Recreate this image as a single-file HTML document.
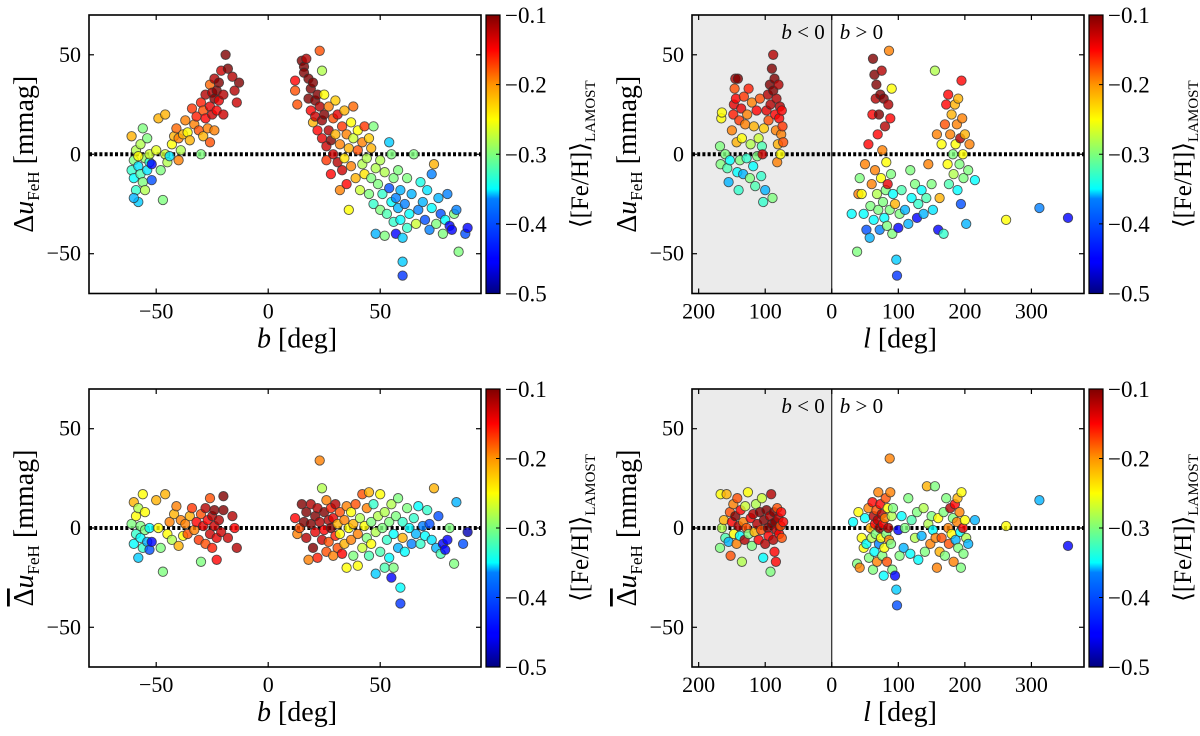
<!DOCTYPE html>
<html><head><meta charset="utf-8"><style>
html,body{margin:0;padding:0;background:#fff;}
svg{display:block;font-family:"Liberation Serif","DejaVu Serif",serif;}
</style></head><body>
<svg id="fig" width="1200" height="736" viewBox="0 0 1200 736">
<defs>
<linearGradient id="jet" x1="0" y1="1" x2="0" y2="0">
<stop offset="0" stop-color="#00007f"/><stop offset="0.11" stop-color="#0000ff"/><stop offset="0.125" stop-color="#0000ff"/>
<stop offset="0.34" stop-color="#0080ff"/><stop offset="0.375" stop-color="#00ffff" /><stop offset="0.5" stop-color="#7dff7a"/>
<stop offset="0.625" stop-color="#ffff00"/><stop offset="0.75" stop-color="#ff9400"/><stop offset="0.875" stop-color="#ff0000"/><stop offset="1" stop-color="#7f0000"/>
</linearGradient>
</defs>
</svg>
<script>
// ---------- data: top-left (b vs Δu) ----------
const tlB=[-61,-60,-60,-59,-59,-58,-58,-57,-57,-56,-56,-55,-55,-54,-54,-53,-52,-52,-61,-60,-58,-53,-50,-49,-48,-47,-46,-46,-45,-44,-43,-42,-41,-40,-40,-39,-38,-37,-36,-35,-34,-33,-32,-31,-30,-30,-29,-29,-28,-28,-27,-26,-26,-25,-25,-24,-24,-23,-23,-22,-22,-21,-20,-20,-19,-18,-16,-15,-14,-13,-26,-24,
12,12,13,15,16,16,17,18,18,19,19,20,20,21,21,22,22,23,23,24,24,24,25,25,26,26,27,27,28,28,29,29,30,30,31,31,32,32,33,33,34,34,35,35,36,36,37,37,38,38,39,40,40,41,42,42,43,43,44,45,45,46,46,47,47,48,48,49,50,50,51,52,52,53,54,54,55,55,56,56,57,57,58,58,59,59,60,60,60,61,62,62,63,64,65,66,67,68,69,70,71,72,73,73,74,75,76,77,78,79,80,81,82,83,84,85,88,89];
const tlDu=[-8,-12,-3,-18,2,-6,-24,-10,5,-14,13,-2,-18,-8,8,-4,-13,-5,9,-22,-1,0,2,18,-8,-23,20,0,-4,-1,5,9,13,-3,8,2,10,17,11,7,23,15,19,12,26,0,22,9,18,30,13,24,35,20,31,28,38,32,22,36,27,42,30,20,50,43,39,32,26,36,6,12,
37,32,25,47,44,41,48,38,28,33,22,36,16,27,19,30,12,52,24,42,8,17,20,30,4,-3,12,24,7,-10,18,0,27,10,-4,20,5,-18,14,-8,22,-2,10,-15,3,-28,16,-6,8,24,-12,12,2,-18,6,-5,14,-10,-2,8,-20,-12,3,14,-25,-7,-40,-15,-28,-3,-20,-9,-41,-30,-17,6,-24,0,-12,-34,-22,-40,-27,-8,-18,-33,-42,-54,-61,-25,-37,-12,-30,-20,0,-35,-28,-14,-24,-33,-18,-38,-27,-10,-5,-35,-22,-30,-40,-33,-20,-36,-38,-30,-28,-49,-40,-37];
const tlFeh=[-.33,-.35,-.3,-.33,-.28,-.36,-.37,-.32,-.28,-.3,-.3,-.29,-.28,-.36,-.3,-.34,-.42,-.45,-.22,-.38,-.25,-.27,-.26,-.22,-.3,-.3,-.22,-.27,-.28,-.36,-.25,-.22,-.19,-.2,-.2,-.28,-.22,-.2,-.25,-.22,-.17,-.2,-.16,-.18,-.16,-.3,-.18,-.22,-.15,-.12,-.2,-.14,-.19,-.13,-.12,-.1,-.12,-.1,-.15,-.1,-.14,-.13,-.12,-.13,-.1,-.1,-.12,-.12,-.13,-.1,-.18,-.2,
-.15,-.18,-.18,-.1,-.1,-.1,-.12,-.1,-.1,-.1,-.15,-.1,-.22,-.1,-.13,-.1,-.15,-.18,-.12,-.28,-.14,-.11,-.1,-.25,-.13,-.17,-.12,-.2,-.1,-.15,-.18,-.13,-.23,-.22,-.12,-.14,-.2,-.2,-.17,-.13,-.22,-.24,-.2,-.15,-.22,-.25,-.25,-.2,-.27,-.19,-.22,-.25,-.18,-.27,-.2,-.28,-.17,-.24,-.28,-.23,-.3,-.3,-.22,-.3,-.33,-.28,-.38,-.3,-.3,-.28,-.33,-.28,-.3,-.32,-.42,-.37,-.35,-.3,-.3,-.33,-.4,-.45,-.38,-.3,-.38,-.35,-.37,-.37,-.43,-.4,-.33,-.3,-.35,-.38,-.3,-.27,-.4,-.34,-.38,-.42,-.36,-.4,-.35,-.4,-.22,-.3,-.38,-.42,-.3,-.35,-.4,-.45,-.45,-.3,-.4,-.3,-.42,-.45];

// ---------- data: top-right (l vs Δu; negative = b<0 side) ----------
const trL=[-168,-167,-166,-165,-160,-157,-155,-153,-150,-148,-147,-146,-145,-144,-143,-142,-141,-140,-139,-138,-136,-135,-133,-132,-130,-128,-127,-125,-123,-122,-120,-118,-117,-115,-113,-112,-110,-108,-106,-105,-104,-103,-102,-100,-98,-96,-95,-93,-92,-90,-89,-88,-88,-86,-85,-84,-83,-82,-81,-80,-79,-78,-77,-76,-75,-74,-73,
30,38,40,42,45,48,50,52,55,57,58,60,61,62,63,64,65,66,67,68,69,70,71,72,73,74,75,76,77,78,79,80,81,82,83,84,85,86,87,88,89,90,91,92,95,97,98,100,102,105,110,115,118,120,125,128,130,135,138,142,145,150,152,155,158,160,162,165,168,170,172,174,175,176,178,180,182,183,185,186,188,189,190,192,193,194,195,196,197,198,200,202,205,207,215,262,312,355];
const trDu=[4,-5,18,21,0,-7,-14,-3,12,20,25,33,38,28,6,-9,38,-18,17,-3,23,8,-10,29,15,-2,20,33,-12,5,26,-6,14,-16,22,-1,8,28,-11,4,0,-24,13,-18,22,30,17,35,25,43,-22,50,32,38,20,12,28,-4,5,35,18,24,0,10,22,14,6,
-30,-49,-20,-12,-20,-30,-5,-38,5,-42,-26,-15,20,48,-33,40,-8,28,35,-20,10,-28,20,-38,30,-12,42,2,-24,28,-32,14,-18,-4,-36,-15,25,52,-28,18,-10,33,-40,-20,-25,-53,-61,-37,-30,-18,-28,-35,-8,-22,-15,-32,-25,-18,-30,-22,-5,-15,-28,42,10,-38,-22,5,-40,15,25,-5,30,-15,10,20,0,-10,25,5,15,-18,28,-5,8,-25,37,18,0,-12,10,-35,-8,5,-13,-33,-27,-32];
const trFeh=[-.3,-.3,-.25,-.25,-.3,-.32,-.38,-.35,-.2,-.16,-.14,-.18,-.12,-.15,-.22,-.35,-.1,-.33,-.17,-.3,-.14,-.25,-.38,-.17,-.2,-.33,-.2,-.16,-.3,-.28,-.2,-.35,-.22,-.32,-.15,-.3,-.27,-.18,-.33,-.32,-.13,-.33,-.23,-.38,-.14,-.12,-.18,-.1,-.12,-.1,-.3,-.12,-.1,-.1,-.15,-.2,-.12,-.2,-.22,-.12,-.15,-.12,-.25,-.2,-.15,-.17,-.18,
-.35,-.3,-.2,-.3,-.25,-.35,-.2,-.42,-.15,-.38,-.3,-.2,-.15,-.1,-.35,-.1,-.2,-.12,-.1,-.28,-.15,-.3,-.1,-.4,-.1,-.25,-.12,-.2,-.3,-.1,-.35,-.12,-.3,-.25,-.3,-.14,-.12,-.2,-.3,-.15,-.3,-.25,-.3,-.35,-.22,-.37,-.43,-.45,-.3,-.32,-.38,-.38,-.3,-.35,-.3,-.45,-.33,-.35,-.38,-.32,-.2,-.3,-.36,-.28,-.2,-.45,-.22,-.25,-.33,-.18,-.15,-.25,-.15,-.32,-.2,-.22,-.3,-.28,-.22,-.25,-.2,-.35,-.22,-.3,-.12,-.42,-.15,-.2,-.25,-.3,-.22,-.38,-.3,-.2,-.35,-.25,-.4,-.45];

// ---------- data: bottom-left (b vs mean Δu) ----------
const blB=[-61,-60,-60,-59,-59,-58,-58,-57,-57,-56,-56,-55,-55,-54,-53,-53,-52,-50,-49,-48,-47,-46,-45,-44,-43,-42,-41,-40,-39,-38,-37,-36,-35,-34,-33,-32,-31,-30,-30,-29,-28,-28,-27,-26,-26,-25,-25,-24,-24,-23,-23,-22,-21,-20,-20,-18,-16,-15,-14,
12,13,14,15,16,17,17,18,19,19,20,21,21,22,22,23,23,24,24,25,25,26,26,27,27,28,28,29,29,30,30,31,31,32,32,33,34,34,35,35,36,37,37,38,38,39,40,40,41,42,42,43,44,44,45,45,46,46,47,48,48,49,50,50,51,52,52,53,54,54,55,55,56,56,57,58,58,59,59,60,60,61,62,63,64,65,66,67,68,69,70,71,72,73,74,75,76,77,78,79,80,81,83,84,87,89];
const blDu=[2,-8,13,-3,6,-15,10,-5,1,17,-10,-1,8,-7,0,-11,-7,14,0,-10,-22,17,-3,3,-6,7,11,-9,4,-4,2,-3,6,10,-1,3,-6,7,-17,1,-8,10,4,-3,15,6,-10,1,9,-5,-16,4,-2,16,9,-5,6,0,-10,
5,-3,0,12,3,-5,8,-16,2,12,-10,6,-2,10,-15,34,3,20,-6,8,-1,-12,14,4,-7,0,10,-14,5,12,-4,2,-10,8,-3,-13,4,-8,-20,11,0,-6,8,-14,2,12,-19,-3,5,-10,17,1,-5,10,-14,18,3,-8,12,-23,-2,6,-12,17,0,-20,8,-6,-15,3,-25,12,-3,-20,6,-10,15,-30,-38,-5,3,-12,10,0,-8,5,-3,11,-8,1,-4,9,2,-6,20,-10,6,-13,-8,-11,-6,0,-18,13,-8,-2];
const blFeh=[-.3,-.35,-.22,-.33,-.25,-.37,-.28,-.35,-.3,-.25,-.33,-.3,-.25,-.38,-.35,-.42,-.45,-.22,-.25,-.3,-.3,-.22,-.25,-.2,-.28,-.22,-.2,-.22,-.2,-.25,-.2,-.18,-.22,-.17,-.2,-.15,-.17,-.18,-.3,-.14,-.18,-.12,-.15,-.13,-.18,-.12,-.16,-.13,-.1,-.14,-.15,-.12,-.13,-.1,-.1,-.13,-.12,-.15,-.12,
-.15,-.2,-.18,-.1,-.1,-.12,-.1,-.2,-.1,-.12,-.1,-.1,-.14,-.12,-.16,-.2,-.12,-.28,-.13,-.1,-.15,-.18,-.2,-.12,-.18,-.1,-.16,-.2,-.14,-.12,-.16,-.22,-.18,-.18,-.25,-.15,-.2,-.22,-.25,-.2,-.25,-.2,-.25,-.3,-.22,-.18,-.25,-.2,-.28,-.27,-.18,-.25,-.3,-.2,-.32,-.22,-.3,-.25,-.33,-.37,-.28,-.28,-.32,-.25,-.3,-.32,-.28,-.33,-.35,-.3,-.45,-.28,-.35,-.3,-.3,-.38,-.3,-.35,-.43,-.22,-.33,-.35,-.3,-.35,-.4,-.33,-.38,-.35,-.33,-.4,-.35,-.33,-.42,-.36,-.22,-.38,-.42,-.32,-.45,-.45,-.45,-.3,-.3,-.38,-.42,-.48];

// ---------- data: bottom-right (l vs mean Δu) ----------
const brL=[-168,-167,-165,-162,-160,-158,-155,-153,-152,-150,-148,-147,-145,-143,-142,-140,-138,-137,-135,-133,-131,-130,-128,-126,-125,-122,-120,-118,-116,-114,-112,-110,-108,-106,-105,-103,-102,-100,-98,-96,-95,-93,-92,-91,-90,-88,-87,-86,-85,-84,-83,-82,-80,-79,-77,-76,-75,-73,
32,38,40,42,45,48,50,52,55,56,58,60,61,62,63,64,65,66,67,68,69,70,71,72,73,74,75,76,77,78,79,80,81,82,83,84,85,86,87,88,89,90,91,92,95,97,98,100,102,105,108,110,115,118,120,125,128,130,135,138,140,143,145,148,150,152,155,156,158,160,162,165,168,170,172,175,176,178,180,182,183,185,186,188,189,190,192,193,194,195,197,198,200,202,205,215,262,312,355];
const brDu=[-10,17,0,4,-5,17,-7,8,-14,3,12,-3,6,-8,15,1,-4,9,-17,3,-6,11,0,18,-3,5,-9,7,-2,12,2,-6,8,-1,15,-15,4,-8,9,0,-4,6,-22,17,2,-6,8,-12,3,-17,-1,10,5,-3,1,8,-5,3,
3,-18,8,-20,-5,-10,5,-8,10,-15,0,-5,13,-21,6,-12,2,-3,9,-17,4,18,-8,0,12,-5,7,-14,2,-24,-10,5,15,-3,-17,10,0,-6,35,18,-8,6,-21,10,-24,-31,-39,-1,-14,6,-10,0,15,-13,4,-5,8,-16,-4,10,-12,21,2,-8,6,-1,21,-5,-20,5,-12,-5,8,-14,15,0,-8,10,-3,5,-17,12,-6,3,15,-10,8,-2,-20,18,0,-13,4,-5,-8,4,1,14,-9];
const brFeh=[-.3,-.25,-.28,-.22,-.32,-.22,-.38,-.18,-.18,-.15,-.2,-.25,-.1,-.2,-.18,-.12,-.35,-.15,-.28,-.2,-.12,-.27,-.18,-.25,-.3,-.15,-.3,-.12,-.22,-.28,-.12,-.15,-.1,-.18,-.27,-.35,-.1,-.12,-.1,-.1,-.15,-.12,-.3,-.12,-.1,-.12,-.1,-.15,-.1,-.15,-.12,-.18,-.12,-.15,-.18,-.15,-.18,-.15,
-.35,-.3,-.25,-.2,-.25,-.25,-.35,-.35,-.2,-.3,-.22,-.28,-.15,-.3,-.12,-.35,-.15,-.3,-.18,-.2,-.12,-.2,-.4,-.1,-.15,-.25,-.12,-.3,-.15,-.35,-.25,-.2,-.18,-.3,-.18,-.25,-.12,-.2,-.2,-.2,-.3,-.28,-.3,-.3,-.45,-.37,-.42,-.45,-.3,-.35,-.38,-.3,-.3,-.35,-.32,-.28,-.3,-.35,-.38,-.28,-.3,-.22,-.28,-.2,-.3,-.35,-.3,-.2,-.2,-.25,-.22,-.18,-.3,-.3,-.3,-.2,-.18,-.12,-.25,-.3,-.2,-.15,-.38,-.2,-.22,-.3,-.2,-.35,-.3,-.25,-.15,-.3,-.25,-.28,-.38,-.38,-.25,-.38,-.45];

const bTicks=[-50,0,50];
const bTickLabels=["\u221250","0","50"];
const lTicks=[-200,-100,0,100,200,300];
const lTickLabels=["200","100","0","100","200","300"];
const yTicks=[-50,0,50];
const yTickLabels=["\u221250","0","50"];
const cbTicks=[-0.5,-0.4,-0.3,-0.2,-0.1];
const cbTickLabels=["\u22120.5","\u22120.4","\u22120.3","\u22120.2","\u22120.1"];

const NS="http://www.w3.org/2000/svg";
const svg=document.getElementById('fig');
function mk(tag,attrs,parent){const e=document.createElementNS(NS,tag);for(const k in attrs)e.setAttribute(k,attrs[k]);(parent||svg).appendChild(e);return e;}

function jet(v){
  function cl(x){return Math.max(0,Math.min(1,x));}
  const r=cl(1.5-Math.abs(4*v-3)), g=cl(1.5-Math.abs(4*v-2)), b=cl(1.5-Math.abs(4*v-1));
  return `rgb(${Math.round(r*255)},${Math.round(g*255)},${Math.round(b*255)})`;
}

const panels=[
 {name:'top-left',x0:89,x1:481,y0:15,y1:293.5,xmin:-80,xmax:95,xs:tlB,ys:tlDu,cs:tlFeh,xt:bTicks,xtl:bTickLabels,xlab:'b',cb:486},
 {name:'top-right',x0:692,x1:1084,y0:15,y1:293.5,xmin:-210,xmax:379,xs:trL,ys:trDu,cs:trFeh,xt:lTicks,xtl:lTickLabels,xlab:'l',shade:true,cb:1089},
 {name:'bottom-left',x0:89,x1:481,y0:389,y1:667,xmin:-80,xmax:95,xs:blB,ys:blDu,cs:blFeh,xt:bTicks,xtl:bTickLabels,xlab:'b',cb:486},
 {name:'bottom-right',x0:692,x1:1084,y0:389,y1:667,xmin:-210,xmax:379,xs:brL,ys:brDu,cs:brFeh,xt:lTicks,xtl:lTickLabels,xlab:'l',shade:true,cb:1089}
];
panels.forEach(p=>{p.bar=p.name.startsWith('bottom');});

panels.forEach(p=>{
  const g=mk('g',{});
  
  
  const sx=v=>p.x0+(v-p.xmin)/(p.xmax-p.xmin)*(p.x1-p.x0);
  const sy=v=>p.y1-(v+70)/140*(p.y1-p.y0);
  if(p.shade){
    const s=mk('rect',{x:p.x0,y:p.y0,width:sx(0)-p.x0,height:p.y1-p.y0,fill:'#ebebeb'},g);
    
    
    const vl=mk('line',{x1:sx(0),x2:sx(0),y1:p.y0,y2:p.y1,stroke:'#000','stroke-width':1},g);
    
    
    const t1=mk('text',{x:sx(0)-7,y:p.y0+24,'text-anchor':'end','font-size':21},g);
    t1.innerHTML='<tspan font-style="italic">b</tspan> &lt; 0';
    
    
    const t2=mk('text',{x:sx(0)+8,y:p.y0+24,'text-anchor':'start','font-size':21},g);
    t2.innerHTML='<tspan font-style="italic">b</tspan> &gt; 0';
    
    
  }
  const zl=mk('line',{x1:p.x0,x2:p.x1,y1:sy(0),y2:sy(0),stroke:'#000','stroke-width':4,'stroke-dasharray':'3 2.2'},g);
  
  
  const pts=mk('g',{},g);
  
  
  for(let i=0;i<p.xs.length;i++){
    const c=mk('circle',{cx:sx(p.xs[i]).toFixed(1),cy:sy(p.ys[i]).toFixed(1),r:4.7,fill:jet((p.cs[i]+0.5)/0.4),'fill-opacity':0.8,stroke:'#333','stroke-opacity':0.8,'stroke-width':0.9},pts);
    
    
  }
  const fr=mk('rect',{x:p.x0,y:p.y0,width:p.x1-p.x0,height:p.y1-p.y0,fill:'none',stroke:'#000','stroke-width':1.6},g);
  
  
  p.xt.forEach((t,i)=>{
    const x=sx(t);
    mk('line',{x1:x,x2:x,y1:p.y1,y2:p.y1-5,stroke:'#000','stroke-width':1.2},g);
    mk('line',{x1:x,x2:x,y1:p.y0,y2:p.y0+5,stroke:'#000','stroke-width':1.2},g);
    const tl=mk('text',{x:x,y:p.y1+25,'text-anchor':'middle','font-size':22},g);
    tl.textContent=p.xtl[i];
    
    
  });
  yTicks.forEach((t,i)=>{
    const y=sy(t);
    mk('line',{x1:p.x0,x2:p.x0+5,y1:y,y2:y,stroke:'#000','stroke-width':1.2},g);
    mk('line',{x1:p.x1,x2:p.x1-5,y1:y,y2:y,stroke:'#000','stroke-width':1.2},g);
    const tl=mk('text',{x:p.x0-8,y:y+7,'text-anchor':'end','font-size':22},g);
    tl.textContent=yTickLabels[i];
    
    
  });
  const xl=mk('text',{x:(p.x0+p.x1)/2+12,y:p.y1+54,'text-anchor':'middle','font-size':28},g);
  xl.innerHTML='<tspan font-style="italic">'+p.xlab+'</tspan> [deg]';
  
  
  const cy=(p.y0+p.y1)/2;
  const yl=mk('text',{x:0,y:0,'text-anchor':'middle','font-size':28,transform:`translate(${p.x0-56},${cy}) rotate(-90)`},g);
  yl.innerHTML=(p.bar?'<tspan text-decoration="overline">\u0394</tspan>':'\u0394')+'<tspan font-style="italic">u</tspan><tspan font-size="17" dy="6">FeH</tspan><tspan dy="-6"> [mmag]</tspan>';
  
  
  const cb=mk('rect',{x:p.cb,y:p.y0,width:14,height:p.y1-p.y0,fill:'url(#jet)',stroke:'#000','stroke-width':1.2},g);
  
  
  cbTicks.forEach((t,i)=>{
    const y=p.y1-(t+0.5)/0.4*(p.y1-p.y0);
    mk('line',{x1:p.cb+14,x2:p.cb+10,y1:y,y2:y,stroke:'#000','stroke-width':1},g);
    const tl=mk('text',{x:p.cb+19,y:y+8,'font-size':23},g);
    tl.textContent=cbTickLabels[i];
    
    
  });
  const cl=mk('text',{x:0,y:0,'text-anchor':'middle','font-size':25,transform:`translate(${p.cb+102},${cy}) rotate(-90)`},g);
  cl.innerHTML='\u27E8[Fe/H]\u27E9<tspan font-size="15" dy="7">LAMOST</tspan>';
  
  
});
</script>
</body></html>
